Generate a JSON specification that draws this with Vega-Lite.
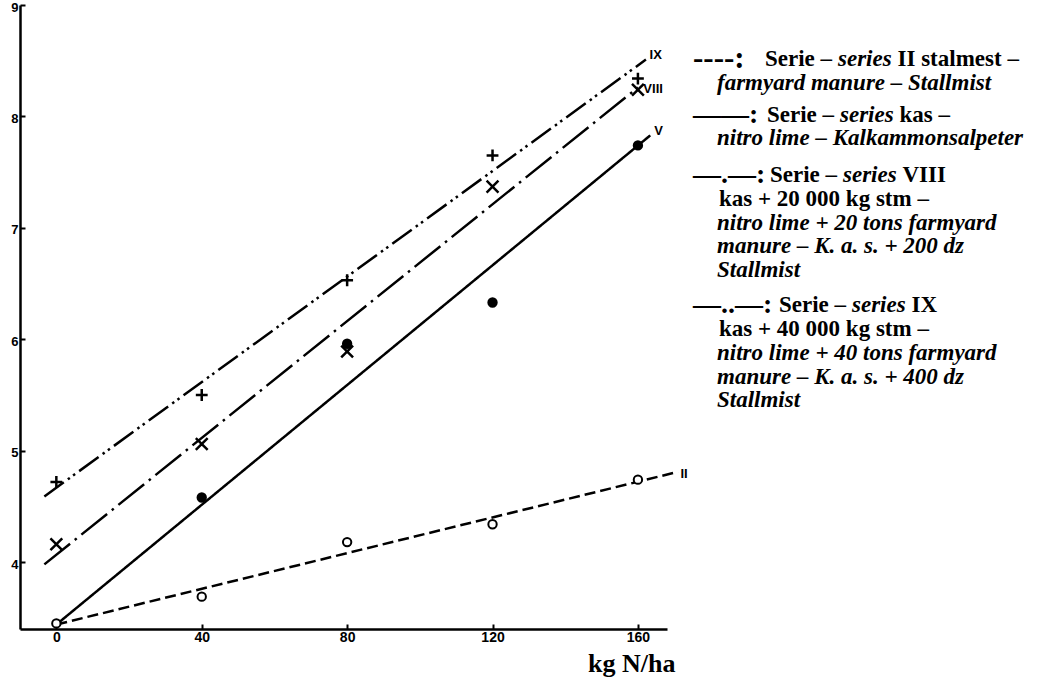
{
  "$schema": "https://vega.github.io/schema/vega-lite/v6.json",
  "autosize": {"type": "none"},
  "width": 647,
  "height": 624,
  "padding": {"left": 20, "top": 5, "right": 386, "bottom": 49},
  "background": "white",
  "config": {"view": {"stroke": null}},
  "datasets": {
    "points": [
      {"series": "II", "n": 0, "yield": 3.45},
      {"series": "II", "n": 40, "yield": 3.69},
      {"series": "II", "n": 80, "yield": 4.18},
      {"series": "II", "n": 120, "yield": 4.34},
      {"series": "II", "n": 160, "yield": 4.74},
      {"series": "V", "n": 40, "yield": 4.58},
      {"series": "V", "n": 80, "yield": 5.96},
      {"series": "V", "n": 120, "yield": 6.33},
      {"series": "V", "n": 160, "yield": 7.74},
      {"series": "VIII", "n": 0, "yield": 4.16},
      {"series": "VIII", "n": 40, "yield": 5.06},
      {"series": "VIII", "n": 80, "yield": 5.89},
      {"series": "VIII", "n": 120, "yield": 7.37},
      {"series": "VIII", "n": 160, "yield": 8.24},
      {"series": "IX", "n": 0, "yield": 4.72},
      {"series": "IX", "n": 40, "yield": 5.5},
      {"series": "IX", "n": 80, "yield": 6.53},
      {"series": "IX", "n": 120, "yield": 7.65},
      {"series": "IX", "n": 160, "yield": 8.34}
    ],
    "fits": [
      {"series": "II", "n": 0, "yield": 3.44},
      {"series": "II", "n": 171, "yield": 4.81},
      {"series": "V", "n": 0, "yield": 3.44},
      {"series": "V", "n": 163.4, "yield": 7.83},
      {"series": "VIII", "n": -3.3, "yield": 3.98},
      {"series": "VIII", "n": 160, "yield": 8.26},
      {"series": "IX", "n": -3.3, "yield": 4.59},
      {"series": "IX", "n": 162.2, "yield": 8.51}
    ],
    "labels": [
      {"label": "IX", "n": 163.2, "yield": 8.55},
      {"label": "VIII", "n": 161.5, "yield": 8.25},
      {"label": "V", "n": 164.5, "yield": 7.87},
      {"label": "II", "n": 171.7, "yield": 4.79}
    ],
    "legend": [
      {"line": 0, "col": 0, "style": "mark", "text": "----:"},
      {"line": 0, "col": 72, "style": "roman", "text": "Serie –"},
      {"line": 0, "col": 145, "style": "italic", "text": "series"},
      {"line": 0, "col": 204.5, "style": "roman", "text": "II stalmest –"},
      {"line": 1, "col": 24, "style": "italic", "text": "farmyard manure – Stallmist"},
      {"line": 2.35, "col": 0, "style": "mark", "text": "——:"},
      {"line": 2.35, "col": 74, "style": "roman", "text": "Serie –"},
      {"line": 2.35, "col": 147, "style": "italic", "text": "series"},
      {"line": 2.35, "col": 206.5, "style": "roman", "text": "kas –"},
      {"line": 3.35, "col": 24, "style": "italic", "text": "nitro lime – Kalkammonsalpeter"},
      {"line": 4.9, "col": 0, "style": "mark", "text": "—.—:"},
      {"line": 4.9, "col": 77, "style": "roman", "text": "Serie –"},
      {"line": 4.9, "col": 150, "style": "italic", "text": "series"},
      {"line": 4.9, "col": 209.5, "style": "roman", "text": "VIII"},
      {"line": 5.9, "col": 26, "style": "roman", "text": "kas + 20 000 kg stm –"},
      {"line": 6.9, "col": 24, "style": "italic", "text": "nitro lime + 20 tons farmyard"},
      {"line": 7.9, "col": 24, "style": "italic", "text": "manure – K. a. s. + 200 dz"},
      {"line": 8.9, "col": 24, "style": "italic", "text": "Stallmist"},
      {"line": 10.4, "col": 0, "style": "mark", "text": "—..—:"},
      {"line": 10.4, "col": 86, "style": "roman", "text": "Serie –"},
      {"line": 10.4, "col": 159, "style": "italic", "text": "series"},
      {"line": 10.4, "col": 218.5, "style": "roman", "text": "IX"},
      {"line": 11.4, "col": 26, "style": "roman", "text": "kas + 40 000 kg stm –"},
      {"line": 12.4, "col": 24, "style": "italic", "text": "nitro lime + 40 tons farmyard"},
      {"line": 13.4, "col": 24, "style": "italic", "text": "manure – K. a. s. + 400 dz"},
      {"line": 14.4, "col": 24, "style": "italic", "text": "Stallmist"}
    ]
  },
  "layer": [
    {
      "layer": [
        {
          "data": {"name": "fits"},
          "mark": {"type": "line", "color": "black", "strokeWidth": 2.5, "clip": false},
          "encoding": {
            "x": {
              "field": "n", "type": "quantitative",
              "scale": {"domain": [-10, 168], "nice": false, "zero": false},
              "axis": {
                "values": [0, 40, 80, 120, 160],
                "format": "d",
                "title": "kg N/ha",
                "titleFont": "Liberation Serif", "titleFontSize": 26, "titleFontWeight": "bold",
                "titleColor": "black", "titleAnchor": "end", "titleAlign": "right", "titlePadding": 6,
                "titleX": 655,
                "labelFont": "Liberation Sans", "labelFontSize": 14, "labelFontWeight": "bold",
                "labelColor": "black", "labelPadding": 6, "labelFlush": false, "labelOverlap": false,
                "tickSize": -5, "tickWidth": 2, "tickColor": "black",
                "domainColor": "black", "domainWidth": 2.5, "grid": false
              }
            },
            "y": {
              "field": "yield", "type": "quantitative",
              "scale": {"domain": [3.4, 9], "nice": false, "zero": false},
              "axis": {
                "values": [4, 5, 6, 7, 8, 9],
                "format": "d",
                "title": null,
                "labelFont": "Liberation Sans", "labelFontSize": 13, "labelFontWeight": "bold",
                "labelColor": "black", "labelPadding": 7, "labelOffset": 2,
                "tickSize": -5, "tickWidth": 2, "tickColor": "black",
                "domainColor": "black", "domainWidth": 2.5, "grid": false
              }
            },
            "strokeDash": {
              "field": "series", "type": "nominal",
              "scale": {"domain": ["II", "V", "VIII", "IX"], "range": [[11, 5], [1, 0], [33, 6, 2.5, 6], [24, 5, 2.5, 4, 2.5, 5]]},
              "legend": null
            }
          }
        },
        {
          "data": {"name": "points"},
          "transform": [{"filter": "datum.series == 'II' || datum.series == 'V'"}],
          "mark": {"type": "point", "shape": "circle", "filled": true, "stroke": "black", "strokeWidth": 2, "size": 70, "opacity": 1},
          "encoding": {
            "x": {"field": "n", "type": "quantitative"},
            "y": {"field": "yield", "type": "quantitative"},
            "fill": {"field": "series", "type": "nominal", "scale": {"domain": ["II", "V"], "range": ["white", "black"]}, "legend": null}
          }
        },
        {
          "data": {"name": "points"},
          "transform": [{"filter": "datum.series == 'VIII' || datum.series == 'IX'"}],
          "mark": {"type": "point", "filled": false, "stroke": "black", "strokeWidth": 2.5, "size": 140, "opacity": 1},
          "encoding": {
            "x": {"field": "n", "type": "quantitative"},
            "y": {"field": "yield", "type": "quantitative"},
            "shape": {"field": "series", "type": "nominal", "scale": {"domain": ["VIII", "IX"], "range": ["M-1,-1L1,1M-1,1L1,-1", "M-1,0L1,0M0,-1L0,1"]}, "legend": null}
          }
        },
        {
          "data": {"name": "labels"},
          "mark": {"type": "text", "align": "left", "baseline": "middle", "font": "Liberation Sans", "fontSize": 13, "fontWeight": "bold", "color": "black"},
          "encoding": {
            "x": {"field": "n", "type": "quantitative"},
            "y": {"field": "yield", "type": "quantitative"},
            "text": {"field": "label"}
          }
        }
      ]
    },
    {
      "data": {"name": "legend"},
      "encoding": {
        "x": {"field": "col", "type": "quantitative", "scale": {"domain": [0, 360], "range": [673, 1033]}, "axis": null},
        "y": {"field": "line", "type": "quantitative", "scale": {"domain": [0, 14.4], "range": [54, 395.3]}, "axis": null},
        "text": {"field": "text"}
      },
      "layer": [
        {
          "transform": [{"filter": "datum.style == 'mark' && datum.text == '----:'"}],
          "mark": {"type": "text", "align": "left", "baseline": "middle", "font": "Liberation Serif", "fontSize": 31, "fontWeight": "bold", "color": "black"}
        },
        {
          "transform": [{"filter": "datum.style == 'mark' && datum.text != '----:'"}],
          "mark": {"type": "text", "align": "left", "baseline": "middle", "font": "Liberation Serif", "fontSize": 28, "fontWeight": "bold", "color": "black"}
        },
        {
          "transform": [{"filter": "datum.style == 'roman'"}],
          "mark": {"type": "text", "align": "left", "baseline": "middle", "font": "Liberation Serif", "fontSize": 23, "fontWeight": "bold", "color": "black"}
        },
        {
          "transform": [{"filter": "datum.style == 'italic'"}],
          "mark": {"type": "text", "align": "left", "baseline": "middle", "font": "Liberation Serif", "fontSize": 23, "fontWeight": "bold", "fontStyle": "italic", "color": "black"}
        }
      ]
    }
  ],
  "resolve": {"scale": {"x": "independent", "y": "independent"}}
}
